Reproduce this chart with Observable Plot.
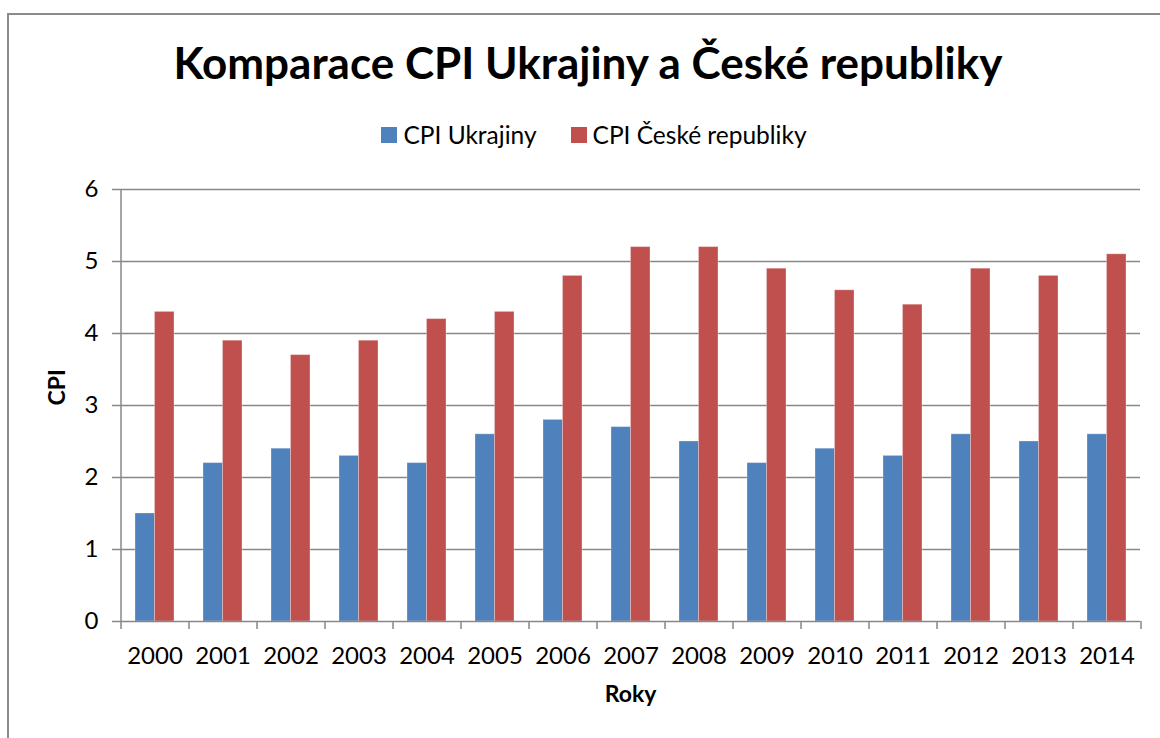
<!DOCTYPE html>
<html>
<head>
<meta charset="utf-8">
<script src="https://cdn.jsdelivr.net/npm/d3@7"></script>
<script src="https://cdn.jsdelivr.net/npm/@observablehq/plot@0.6"></script>
<style>
  html, body { margin: 0; padding: 0; background: #fff; }
  body { width: 1160px; height: 738px; overflow: hidden; position: relative; font-family: Lato, "Open Sans", sans-serif; color: #000; }
  #box { position: absolute; left: 7px; top: 13px; width: 1200px; height: 800px; border: 2px solid #8c8c8c; box-sizing: border-box; }
  #title { position: absolute; left: 7px; width: 1162px; top: 34px; text-align: center; font-weight: bold; font-size: 44px; line-height: 56px; white-space: nowrap; }
  #legend { position: absolute; left: 0px; width: 1188px; top: 120px; display: flex; justify-content: center; gap: 34px; font-size: 24.5px; line-height: 30px; }
  #legend .item { display: flex; align-items: center; }
  #legend .sw { width: 16px; height: 16px; margin-right: 6px; }
  #chart { position: absolute; left: 0; top: 170px; }
</style>
</head>
<body>
<div id="box"></div>
<div id="title">Komparace CPI Ukrajiny a České republiky</div>
<div id="legend"></div>
<div id="chart"></div>
<script>
const years = ["2000","2001","2002","2003","2004","2005","2006","2007","2008","2009","2010","2011","2012","2013","2014"];
const cpiUkrajiny = [1.5, 2.2, 2.4, 2.3, 2.2, 2.6, 2.8, 2.7, 2.5, 2.2, 2.4, 2.3, 2.6, 2.5, 2.6];
const cpiCeskeRepubliky = [4.3, 3.9, 3.7, 3.9, 4.2, 4.3, 4.8, 5.2, 5.2, 4.9, 4.6, 4.4, 4.9, 4.8, 5.1];
const seriesNames = ["CPI Ukrajiny", "CPI České republiky"];
const seriesColors = ["#4F81BD", "#C0504D"];
const yTicks = [0, 1, 2, 3, 4, 5, 6];
const yTitle = "CPI";
const xTitle = "Roky";

const data = years.map((year, i) => ({year, ukr: cpiUkrajiny[i], cz: cpiCeskeRepubliky[i]}));

// legend
const legend = document.getElementById("legend");
seriesNames.forEach((name, i) => {
  const it = document.createElement("div");
  it.className = "item";
  const sw = document.createElement("span");
  sw.className = "sw";
  sw.style.background = seriesColors[i];
  const tx = document.createElement("span");
  tx.textContent = name;
  it.appendChild(sw); it.appendChild(tx);
  legend.appendChild(it);
});

const W = 1160, H = 568, mL = 120, mR = 20, mT = 19, mB = 117;
const padInner = 0.427;
const step = (W - mL - mR) / years.length;
const half = step * (1 - padInner) / 2;
const gray = "#878787";

const chart = Plot.plot({
  width: W, height: H,
  marginLeft: mL, marginRight: mR, marginTop: mT, marginBottom: mB,
  style: {fontFamily: "Lato, 'Open Sans', sans-serif", fontSize: "24px", color: "#000", background: "transparent"},
  x: {domain: years, paddingInner: padInner, paddingOuter: padInner / 2, label: null},
  y: {domain: [0, 6], label: null},
  marks: [
    Plot.gridY(yTicks.filter(d => d > 0), {stroke: gray, strokeOpacity: 1, strokeWidth: 1.5}),
    Plot.barY(data, {x: "year", y: "ukr", fill: seriesColors[0], insetRight: half, stroke: "#fff", strokeOpacity: 0.3, strokeWidth: 1}),
    Plot.barY(data, {x: "year", y: "cz", fill: seriesColors[1], insetLeft: half, stroke: "#fff", strokeOpacity: 0.3, strokeWidth: 1}),
    Plot.ruleY([0], {stroke: gray, strokeWidth: 1.5}),
    Plot.ruleX([years[0]], {x: d => d, y1: 0, y2: 6, dx: -step / 2, stroke: gray, strokeWidth: 1.5}),
    Plot.axisY(yTicks, {tickSize: 8, tickPadding: 14, tickFormat: d3.format("d"), stroke: gray, fill: "#000", fontSize: 24, label: null, strokeWidth: 1.5}),
    Plot.axisX({tickSize: 8, tickFormat: () => "", dx: -step / 2, stroke: gray, strokeWidth: 1.5, label: null}),
    Plot.axisX([years[years.length - 1]], {tickSize: 8, tickFormat: () => "", dx: step / 2, stroke: gray, strokeWidth: 1.5, label: null}),
    Plot.axisX({tickSize: 0, tickPadding: 25, fill: "#000", fontSize: 24, label: null}),
    Plot.text([yTitle], {frameAnchor: "left", dx: -63, rotate: -90, fontWeight: "bold", fontSize: 23, fill: "#000"}),
    Plot.text([xTitle], {frameAnchor: "bottom", dy: 80, fontWeight: "bold", fontSize: 23, fill: "#000"})
  ]
});
document.getElementById("chart").appendChild(chart);
</script>
</body>
</html>
